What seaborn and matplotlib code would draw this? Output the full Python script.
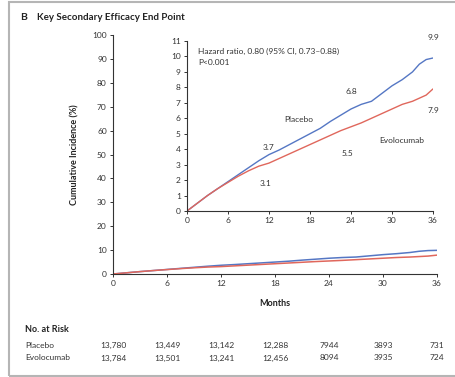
import numpy as np
import pandas as pd
import matplotlib
matplotlib.use("Agg")
import matplotlib.pyplot as plt
import matplotlib.patches as mpatches
import seaborn as sns

# ---- data ----
months = [0, 1.5, 3, 4.5, 6, 7.5, 9, 10.5, 12, 13.5, 15, 16.5, 18, 19.5, 21,
          22.5, 24, 25.5, 27, 28.5, 30, 31.5, 33, 34, 35, 36]
placebo = [0, 0.5, 1.0, 1.45, 1.9, 2.35, 2.8, 3.25, 3.65, 3.95, 4.3, 4.65, 5.0,
           5.35, 5.8, 6.2, 6.6, 6.9, 7.1, 7.6, 8.1, 8.5, 9.0, 9.5, 9.8, 9.9]
evolocumab = [0, 0.5, 1.0, 1.45, 1.85, 2.25, 2.6, 2.9, 3.1, 3.4, 3.7, 4.0, 4.3,
              4.6, 4.9, 5.2, 5.45, 5.7, 6.0, 6.3, 6.6, 6.9, 7.1, 7.3, 7.5, 7.9]

risk_months = [0, 6, 12, 18, 24, 30, 36]
risk_placebo = ["13,780", "13,449", "13,142", "12,288", "7944", "3893", "731"]
risk_evolo = ["13,784", "13,501", "13,241", "12,456", "8094", "3935", "724"]

label_months = [12, 24, 36]
label_placebo = ["3.7", "6.8", "9.9"]
label_evolo = ["3.1", "5.5", "7.9"]

main_yticks = list(range(0, 101, 10))
inset_yticks = list(range(0, 12))
xticks = [0, 6, 12, 18, 24, 30, 36]

df = pd.DataFrame({
    "Months": months * 2,
    "Incidence": placebo + evolocumab,
    "Group": ["Placebo"] * len(months) + ["Evolocumab"] * len(months),
})

sns.set_theme(style="ticks")
plt.rcParams["font.family"] = ["Lato", "DejaVu Sans"]

BLUE = "#5577c4"
RED = "#e0675c"
GRAY = "#333333"
palette = {"Placebo": BLUE, "Evolocumab": RED}

W, H = 455, 377
fig = plt.figure(figsize=(W / 100, H / 100), dpi=100)

def fx(px):
    return px / W

def fy(py):
    return 1 - py / H

# border
fig.patches.append(mpatches.Rectangle((fx(9), fy(376)), fx(460) - fx(9), fy(2) - fy(376),
                                      transform=fig.transFigure, fill=False,
                                      edgecolor="#b5b5b5", linewidth=1.5))

fig.text(fx(20), fy(17), "B", fontsize=7.5, fontweight="bold", color="#222222", va="center")
fig.text(fx(37), fy(17), "Key Secondary Efficacy End Point", fontsize=7, fontweight="bold",
         color="#222222", va="center")

# main axes
ax = fig.add_axes([fx(113), fy(274), fx(437) - fx(113), fy(35) - fy(274)])
sns.lineplot(data=df, x="Months", y="Incidence", hue="Group", palette=palette,
             ax=ax, legend=False, linewidth=1.1)
ax.set_xlim(0, 36)
ax.set_ylim(0, 100)
ax.set_xticks(xticks)
ax.set_yticks(main_yticks)
ax.set_xlabel("")
ax.set_ylabel("")
for s in ["top", "right"]:
    ax.spines[s].set_visible(False)
for s in ["left", "bottom"]:
    ax.spines[s].set_color(GRAY)
    ax.spines[s].set_linewidth(0.8)
ax.tick_params(axis="both", labelsize=6, colors=GRAY, length=2.5, width=0.7, pad=2)
ax.patch.set_alpha(0)

fig.text(fx(75), fy(155), "Cumulative Incidence (%)", rotation=90, fontsize=6.5,
         fontweight="bold", color="#222222", ha="center", va="center")
fig.text(fx(275), fy(303), "Months", fontsize=6.5, fontweight="bold",
         color="#222222", ha="center", va="center")

# inset
ins = fig.add_axes([fx(187), fy(211), fx(433) - fx(187), fy(41) - fy(211)])
sns.lineplot(data=df, x="Months", y="Incidence", hue="Group", palette=palette,
             ax=ins, legend=False, linewidth=1.0)
ins.set_xlim(0, 36)
ins.set_ylim(0, 11)
ins.set_xticks(xticks)
ins.set_yticks(inset_yticks)
ins.set_xlabel("")
ins.set_ylabel("")
for s in ["top", "right"]:
    ins.spines[s].set_visible(False)
for s in ["left", "bottom"]:
    ins.spines[s].set_color(GRAY)
    ins.spines[s].set_linewidth(0.8)
ins.tick_params(axis="both", labelsize=6, colors=GRAY, length=2.5, width=0.7, pad=2)
ins.patch.set_alpha(0)

tk = dict(fontsize=6, color="#333333", ha="center", va="center")
ins.text(label_months[0], 4.1, label_placebo[0], **tk)
ins.text(label_months[0] - 0.5, 1.8, label_evolo[0], **tk)
ins.text(label_months[1], 7.7, label_placebo[1], **tk)
ins.text(label_months[1] - 0.5, 3.75, label_evolo[1], **tk)
ins.text(label_months[2], 11.2, label_placebo[2], **tk)
ins.text(label_months[2], 6.5, label_evolo[2], **tk)
ins.text(16.4, 5.9, "Placebo", **tk)
ins.text(31.4, 4.55, "Evolocumab", **tk)
ins.text(1.6, 10.35, "Hazard ratio, 0.80 (95% CI, 0.73\u20130.88)", fontsize=6,
         color="#333333", ha="left", va="center")
ins.text(1.6, 9.6, "P<0.001", fontsize=6, color="#333333", ha="left", va="center")

# risk table
fig.text(fx(25), fy(330), "No. at Risk", fontsize=6.5, fontweight="bold",
         color="#222222", va="center")
fig.text(fx(25), fy(345), "Placebo", fontsize=6, color="#333333", va="center")
fig.text(fx(25), fy(358), "Evolocumab", fontsize=6, color="#333333", va="center")
trans = matplotlib.transforms.blended_transform_factory(ax.transData, fig.transFigure)
for m, p, e in zip(risk_months, risk_placebo, risk_evolo):
    fig.text(m, fy(345), p, transform=trans, fontsize=6, color="#333333",
             ha="center", va="center")
    fig.text(m, fy(358), e, transform=trans, fontsize=6, color="#333333",
             ha="center", va="center")

fig.savefig("out.png", dpi=100)
